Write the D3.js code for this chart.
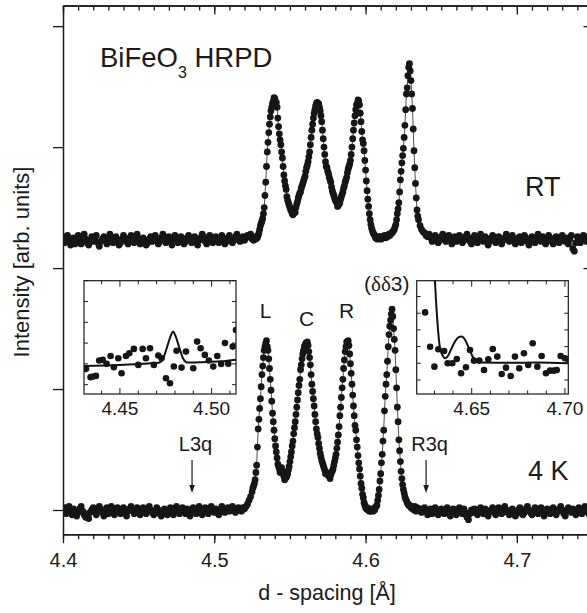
<!DOCTYPE html>
<html><head><meta charset="utf-8">
<script src="https://cdn.jsdelivr.net/npm/d3@7"></script>
<style>
body{margin:0;background:#fff}
svg{display:block}
text{font-family:"Liberation Sans",Arial,Helvetica,sans-serif;fill:#1a1a1a}
</style>
</head><body>
<svg id="chart" width="587" height="613"></svg>
<script>
// ---------------- DATA ----------------
const xMajorTicks = [4.4, 4.5, 4.6, 4.7];
const yLeftTicks = [0, 100, 200, 300, 400];
const yRightTicks = [0, 200, 400];

// d-grid segments (start, step) for the measured profiles
const leftBaseStart = 4.400, baseStep = 0.001;
const peakStart = 4.525, peakStep = 0.0005;
const rightBaseStart = 4.636;

const rtOffset = 223;   // vertical offset of the room-temperature pattern

const rtLeftBase = [3,-2,1,4,-1,-4,0,2,-3,1, 4,0,-3,2,5,1,-2,-4,0,3, -1,2,4,-2,-5,-1,1,3,0,-3,
  2,5,1,-2,0,3,-1,-4,-2,1, 4,2,-1,-3,1,4,0,-2,2,5, 1,-3,-1,2,0,-4,-2,1,3,-1,
  2,4,0,-3,-1,2,5,3,-2,0, 3,-1,-4,1,4,2,-2,0,3,1, -3,-1,2,4,1,-2,0,3,-1,-4,
  0,2,5,3,-1,-3,1,4,2,-2, 1,3,0,-2,2,4,1,-3,-1,2, 4,1,-2,0,3,5,2,-1,1,3, 0,2,4,3,5];
const rtPeak = [1,3,0,2,2,1,3,2,4,6, 9,12,14,16,18,22,27,37,48,61, 73,81,89,96,102,107,110,113,115,118,
  117,113,114,110,101,94,88,83,79,73, 68,61,54,49,45,42,36,33,31,29, 27,25,24,22,21,23,24,23,27,30,
  32,35,37,39,40,43,45,47,49,51, 53,57,60,62,65,69,73,79,85,91, 96,101,105,108,111,113,114,112,113,110,
  107,103,98,91,84,77,71,65,61,60, 57,55,52,50,48,44,41,39,37,35, 33,32,31,28,29,30,31,34,36,38,
  40,43,45,48,50,52,56,59,61,63, 66,71,77,84,91,97,103,108,112,113, 116,115,112,105,98,90,83,80,74,66,
  58,49,41,34,28,22,17,13,10,8, 6,5,4,2,3,1,2,3,1,2, 3,1,2,3,2,4,3,2,4,3,
  4,5,4,5,6,6,7,8,9,11, 13,17,22,26,31,40,50,57,64,70, 76,85,95,108,121,126,136,143,146,140,
  132,121,109,92,74,60,47,35,25,20, 17];
const rtRightBase = [12,9,7,6,4,3,5,2,-1,3, 4,1,-2,0,3,5,1,-1,2,4, 0,-3,1,3,-1,2,4,1,-2,0,
  3,5,2,-1,-3,1,4,0,-2,2, 5,1,-1,3,0,-4,-1,2,4,1, -2,1,3,-1,-3,0,2,5,2,-1,
  1,4,0,-3,-1,2,3,-2,0,4, 2,-1,-4,1,3,0,-2,2,5,1, -1,3,0,-3,1,4,2,-1,-3,1,
  3,0,-2,2,4,1,-1,2,-3,1, 4,-7,-9,-2,3,0,-2,2,4,1, -1,3,0,-2,2];

const k4LeftBase = [-1,2,-3,0,3,-2,-4,1,-1,-5, -2,1,3,-1,-4,-6,-3,-7,-2,0, 2,-1,-4,0,3,1,-2,-5,-1,2,
  -3,0,3,-2,-4,1,2,-1,-3,0, 2,-2,-5,-1,1,3,0,-3,-1,2, -2,-4,0,2,-1,-3,1,3,0,-2,
  -4,-1,2,0,-3,-5,-2,1,-1,-4, 0,2,-2,-4,1,3,-1,-3,0,2, -1,-3,1,-2,-5,-1,2,0,-3,1,
  3,-1,-4,0,2,-2,-3,1,3,0, -2,1,-1,-4,0,3,1,-2,0,2, -1,1,3,0,-2,1,2,0,-1,2, 1,3,5,8,11];
const k4Peak = [15,18,20,22,25,31,37,52,67,75, 84,92,102,112,119,126,132,135,138,140, 135,132,125,117,108,99,90,80,73,66,
  59,53,48,43,38,36,34,31,33,35, 32,30,28,25,26,27,28,30,33,36, 40,44,48,53,57,63,68,73,79,85,
  91,97,103,108,116,120,125,129,132,135, 136,138,137,139,136,131,126,120,112,104, 98,92,86,79,73,67,63,60,55,51,
  47,44,41,39,37,35,33,30,31,30, 29,29,28,26,29,31,32,34,37,40, 43,46,51,56,62,69,78,85,93,101,
  108,117,124,131,135,139,139,140,136,129, 121,113,104,95,86,78,70,66,58,52, 45,39,34,28,22,18,13,10,6,4,
  2,1,2,0,1,-1,0,-1,1,0, -1,1,0,2,3,4,8,12,17,24, 30,39,46,57,66,82,94,104,112,123,
  135,145,152,157,162,166,160,150,141,132, 116,101,85,73,58,49,40,32,26,21, 17,14,11,9,8,6,5,4,4,3,
  2,3,1,2,0,3,1,-1,2,0, 1];
const k4RightBase = [1,-2,0,2,-1,-4,-1,1,-3,0, 2,-1,-4,-2,1,-1,-3,0,2,-2, -5,-1,1,-2,-4,0,2,-1,-3,1,
  -2,-6,-8,-3,0,-2,1,-1,-4,0, 2,-1,-3,1,-2,-5,-1,0,2,-2, -4,0,2,-1,-3,1,3,0,-2,-4,
  -1,1,-2,-5,-3,0,2,-1,-4,-2, 1,3,0,-2,-4,-1,2,1,-3,0, 2,-1,-5,-2,1,-1,-3,0,2,-2,
  -4,-1,1,3,0,-3,-5,-1,2,0, -2,1,-1,-4,0,2,-1,-3,1,3, 0,-2,-4,-1,2];

// insets: measured points and fitted curves (d-spacing, arb. units)
const leftInsetD = [4.4315,4.4340,4.4354,4.4369,4.4387,4.4406,4.4427,4.4449,4.4467,4.4491,4.4509,4.4533,4.4551,
  4.4576,4.4600,4.4624,4.4642,4.4664,4.4685,4.4709,4.4727,4.4751,4.4773,4.4794,4.4809,4.4836,4.4860,4.4900,
  4.4921,4.4940,4.4963,4.4985,4.5009,4.5031,4.5052,4.5073,4.5091,4.5115,4.5133];
const leftInsetV = [-0.24,-0.64,-0.61,-0.58,0.16,0.19,0.00,0.38,-0.16,0.27,-0.45,0.38,0.51,
  0.72,-0.05,0.72,0.27,0.75,-0.05,0.40,0.27,-0.69,-0.93,-0.13,0.63,-0.18,0.59,-0.21,
  1.07,0.75,0.43,0.16,-0.13,0.38,-0.01,1.00,0.00,0.83,1.63];
const leftFitD = [4.4304,4.450,4.465,4.471,4.4735,4.4755,4.4775,4.479,4.4805,4.4825,4.4845,4.487,4.495,4.505,4.5133];
const leftFitV = [-0.10,-0.05,0.02,0.05,0.25,0.75,1.30,1.55,1.30,0.75,0.25,0.06,0.08,0.12,0.20];

const rightInsetD = [4.6250,4.6277,4.6300,4.6321,4.6352,4.6371,4.6396,4.6420,4.6443,4.6469,4.6491,4.6512,
  4.6541,4.6566,4.6589,4.6613,4.6637,4.6661,4.6684,4.6709,4.6732,4.6755,4.6780,4.6803,4.6827,4.6852,4.6875,
  4.6898,4.6920,4.6941,4.6956,4.6977,4.7000,4.7018];
const rightInsetV = [3.05,0.99,-0.20,0.84,0.74,0.00,0.00,0.26,-0.60,-0.24,0.80,0.16,
  0.16,-0.40,0.24,0.86,0.40,-0.64,-0.26,-0.76,0.40,-0.30,0.60,-0.10,1.20,-0.20,0.44,
  -0.60,-0.44,-0.44,-0.40,0.44,0.30,0.24];
const rightFitD = [4.6296,4.6303,4.6316,4.6330,4.6345,4.6357,4.6370,4.6390,4.6410,4.6428,4.6446,4.6465,4.6485,4.6505,4.6525,4.6560,4.6700,4.6850,4.7018];
const rightFitV = [7.0,4.95,2.5,0.9,0.45,0.30,0.40,0.85,1.30,1.55,1.60,1.40,0.90,0.40,0.15,0.05,0.03,0.05,0.00];

const annotations = [{label:"L3q", d:4.4853}, {label:"R3q", d:4.640}];

// ---------------- DRAW ----------------
const svg = d3.select("#chart");
const ink = "#1a1a1a";

const x = d3.scaleLinear().domain([4.4, 4.75]).range([63, 592.5]);
const y = d3.scaleLinear().domain([-20, 417]).range([534.2, 5.6]);

function seg(start, step, vals, off) {
  return vals.map((v, i) => ({d: start + i * step, v: v + off}));
}
const rtSeries = [].concat(
  seg(leftBaseStart, baseStep, rtLeftBase, rtOffset),
  seg(peakStart, peakStep, rtPeak, rtOffset),
  seg(rightBaseStart, baseStep, rtRightBase, rtOffset)).sort((a, b) => a.d - b.d);
const k4Series = [].concat(
  seg(leftBaseStart, baseStep, k4LeftBase, 0),
  seg(peakStart, peakStep, k4Peak, 0),
  seg(rightBaseStart, baseStep, k4RightBase, 0)).sort((a, b) => a.d - b.d);

svg.append("clipPath").attr("id", "plotclip").append("rect")
  .attr("x", 63).attr("y", 5.6).attr("width", 592.5 - 63).attr("height", 534.2 - 5.6);

const plot = svg.append("g").attr("clip-path", "url(#plotclip)");
const line = d3.line().x(p => x(p.d)).y(p => y(p.v));
[rtSeries, k4Series].forEach(s => {
  plot.append("path").datum(s).attr("d", line)
    .attr("fill", "none").attr("stroke", "#3a3a3a").attr("stroke-width", 0.9);
  plot.append("g").selectAll("circle").data(s).join("circle")
    .attr("cx", p => x(p.d)).attr("cy", p => y(p.v)).attr("r", 3.4).attr("fill", "#161616");
});

// axes
function styleAxis(g) {
  g.selectAll("path.domain").attr("stroke", ink).attr("stroke-width", 1.5);
  g.selectAll(".tick line").attr("stroke", ink).attr("stroke-width", 1.3);
}
const minorX = x.ticks(35);
const gb = svg.append("g").attr("transform", "translate(0,534.2)");
gb.call(d3.axisBottom(x).tickValues(minorX).tickSize(5).tickSizeOuter(0).tickFormat(""));
styleAxis(gb);
const gb2 = svg.append("g").attr("transform", "translate(0,534.2)");
gb2.call(d3.axisBottom(x).tickValues(xMajorTicks).tickSize(9).tickSizeOuter(0).tickPadding(10).tickFormat(d3.format(".1f")));
styleAxis(gb2);
gb2.selectAll("text").attr("font-size", 20).attr("fill", ink)
  .style("font-family", '"Liberation Sans",Arial,sans-serif');
const gt = svg.append("g").attr("transform", "translate(0,5.6)");
gt.call(d3.axisTop(x).tickValues(minorX).tickSize(-5).tickSizeOuter(0).tickFormat(""));
styleAxis(gt);
const gt2 = svg.append("g").attr("transform", "translate(0,5.6)");
gt2.call(d3.axisTop(x).tickValues(xMajorTicks).tickSize(-9).tickSizeOuter(0).tickFormat(""));
styleAxis(gt2);
const gl = svg.append("g").attr("transform", "translate(63,0)");
gl.call(d3.axisLeft(y).tickValues(yLeftTicks).tickSize(10).tickSizeOuter(0).tickFormat(""));
styleAxis(gl);
const gr = svg.append("g").attr("transform", "translate(592.5,0)");
gr.call(d3.axisRight(y).tickValues(yRightTicks).tickSize(-9).tickSizeOuter(0).tickFormat(""));
styleAxis(gr);

// axis titles
svg.append("text").attr("x", 327).attr("y", 600).attr("text-anchor", "middle")
  .attr("font-size", 21.5).text("d - spacing [Å]");
svg.append("text").attr("transform", "translate(29,262) rotate(-90)").attr("text-anchor", "middle")
  .attr("font-size", 22).text("Intensity [arb. units]");

// title
const t = svg.append("text").attr("x", 100).attr("y", 67).attr("font-size", 27.5);
t.append("tspan").text("BiFeO");
t.append("tspan").attr("font-size", 16).attr("dy", 11).text("3");
t.append("tspan").attr("dy", -11).text(" HRPD");

svg.append("text").attr("x", 525).attr("y", 196).attr("font-size", 27).text("RT");
svg.append("text").attr("x", 528).attr("y", 480).attr("font-size", 27).text("4 K");

// peak labels
[["L", 265.5, 318], ["C", 306.5, 326], ["R", 346.5, 318]].forEach(([s, px, py]) =>
  svg.append("text").attr("x", px).attr("y", py).attr("text-anchor", "middle").attr("font-size", 21).text(s));
const dd = svg.append("text").attr("x", 364).attr("y", 291).attr("font-size", 21);
dd.append("tspan").text("(");
dd.append("tspan").style("font-family", '"Liberation Serif","Times New Roman",serif').text("δδ");
dd.append("tspan").text("3)");

// arrows
annotations.forEach(a => {
  const ax = x(a.d);
  svg.append("text").attr("x", ax + 3.5).attr("y", 451).attr("text-anchor", "middle")
    .attr("font-size", 20).text(a.label);
  svg.append("line").attr("x1", ax).attr("x2", ax).attr("y1", 460).attr("y2", 487)
    .attr("stroke", ink).attr("stroke-width", 1.2);
  svg.append("path").attr("d", `M${ax - 2.8},485 L${ax + 2.8},485 L${ax},493 Z`).attr("fill", ink);
});

// insets
function inset(id, bx0, bx1, dom, ydom, ptsD, ptsV, fitD, fitV, majors) {
  const by0 = 280.7, by1 = 394;
  const xi = d3.scaleLinear().domain(dom).range([bx0, bx1]);
  const yi = d3.scaleLinear().domain(ydom).range([by1, by0]);
  const g = svg.append("g");
  g.append("rect").attr("x", bx0).attr("y", by0).attr("width", bx1 - bx0).attr("height", by1 - by0)
    .attr("fill", "#fff");
  g.append("clipPath").attr("id", id).append("rect")
    .attr("x", bx0).attr("y", by0).attr("width", bx1 - bx0).attr("height", by1 - by0);
  const inner = g.append("g").attr("clip-path", `url(#${id})`);
  const fit = fitD.map((d, i) => ({d, v: fitV[i]}));
  inner.append("path").datum(fit)
    .attr("d", d3.line().x(p => xi(p.d)).y(p => yi(p.v)).curve(d3.curveMonotoneX))
    .attr("fill", "none").attr("stroke", "#111").attr("stroke-width", 2);
  inner.selectAll("circle").data(ptsD.map((d, i) => ({d, v: ptsV[i]}))).join("circle")
    .attr("cx", p => xi(p.d)).attr("cy", p => yi(p.v)).attr("r", 3.3).attr("fill", "#161616");
  const minor = d3.range(Math.ceil(dom[0] * 100), Math.floor(dom[1] * 100) + 1).map(v => v / 100);
  const tk = g.append("g").attr("stroke", ink).attr("stroke-width", 1);
  minor.forEach(v => {
    const isMajor = majors.some(m => Math.abs(m - v) < 1e-6);
    const L = isMajor ? 6 : 3.5;
    tk.append("line").attr("x1", xi(v)).attr("x2", xi(v)).attr("y1", by1).attr("y2", by1 - L);
    tk.append("line").attr("x1", xi(v)).attr("x2", xi(v)).attr("y1", by0).attr("y2", by0 + L);
  });
  d3.range(Math.ceil(ydom[0]), Math.floor(ydom[1]) + 1).forEach(v => {
    tk.append("line").attr("x1", bx0).attr("x2", bx0 + 4).attr("y1", yi(v)).attr("y2", yi(v));
    tk.append("line").attr("x1", bx1).attr("x2", bx1 - 4).attr("y1", yi(v)).attr("y2", yi(v));
  });
  g.append("rect").attr("x", bx0).attr("y", by0).attr("width", bx1 - bx0).attr("height", by1 - by0)
    .attr("fill", "none").attr("stroke", ink).attr("stroke-width", 1.2);
  majors.forEach(m => g.append("text").attr("x", xi(m)).attr("y", 415).attr("text-anchor", "middle")
    .attr("font-size", 19).text(m.toFixed(2)));
}
inset("cl", 84, 236, [4.4304, 4.5133], [-1.45, 4.0], leftInsetD, leftInsetV, leftFitD, leftFitV, [4.45, 4.50]);
inset("cr", 416.7, 568.3, [4.6205, 4.7018], [-1.84, 4.95], rightInsetD, rightInsetV, rightFitD, rightFitV, [4.65, 4.70]);
</script>
</body></html>
